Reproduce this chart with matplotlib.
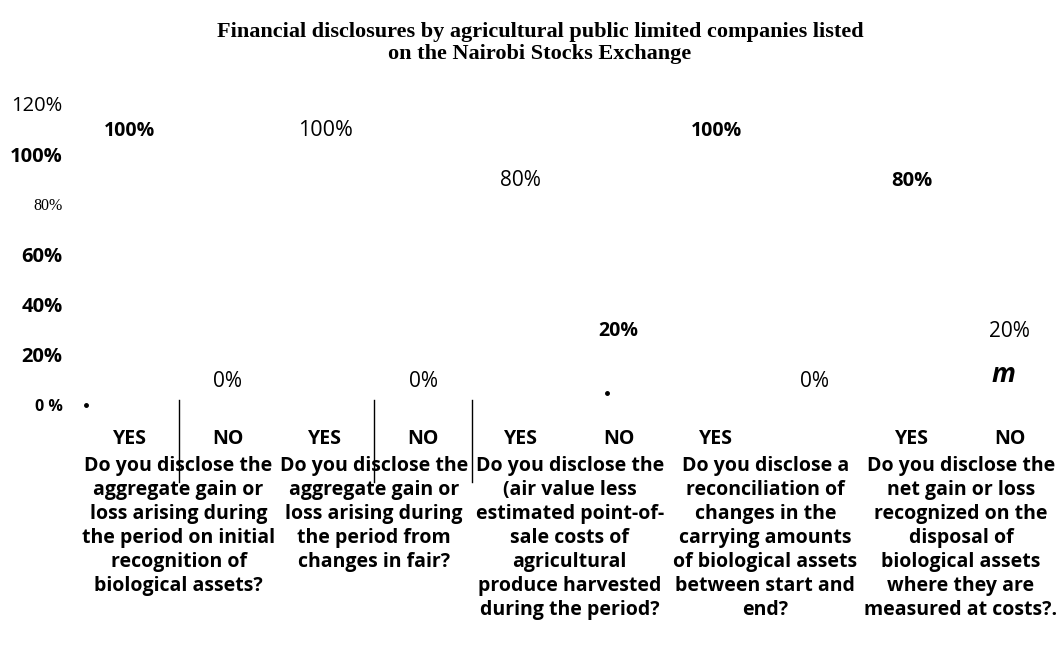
import matplotlib
matplotlib.use("Agg")
import matplotlib.pyplot as plt
import matplotlib.transforms as mtransforms

# answers per question (YES / NO pairs)
answers = ["YES", "NO", "YES", "NO", "YES", "NO", "YES", "", "YES", "NO"]
shares = [1.00, 0.00, 1.00, 0.00, 0.80, 0.20, 1.00, 0.00, 0.80, 0.20]
value_labels = ["100%", "0%", "100%", "0%", "80%", "20%", "100%", "0%", "80%", "20%"]
# how each value label looks in the source
value_weights = ["bold", "normal", "normal", "normal", "normal", "bold", "bold", "normal", "bold", "normal"]
value_sizes = [14, 15, 15.5, 15, 15, 14, 14, 15, 14.5, 15]

questions = [
    "Do you disclose the\naggregate gain or\nloss arising during\nthe period on initial\nrecognition of\nbiological assets?",
    "Do you disclose the\naggregate gain or\nloss arising during\nthe period from\nchanges in fair?",
    "Do you disclose the\n(air value less\nestimated point-of-\nsale costs of\nagricultural\nproduce harvested\nduring the period?",
    "Do you disclose a\nreconciliation of\nchanges in the\ncarrying amounts\nof biological assets\nbetween start and\nend?",
    "Do you disclose the\nnet gain or loss\nrecognized on the\ndisposal of\nbiological assets\nwhere they are\nmeasured at costs?.",
]

y_ticks = [0, 0.2, 0.4, 0.6, 0.8, 1.0, 1.2]
y_labels = ["0 %", "20%", "40%", "60%", "80%", "100%", "120%"]

sans = "Open Sans"

fig = plt.figure(figsize=(10.63, 6.70), dpi=100)
ax = fig.add_axes([0.076, 0.3955, 0.92, 0.4493])

x = list(range(len(answers)))
ax.bar(x, shares, width=0.6, color="white")
ax.set_xlim(-0.5, 9.5)
ax.set_ylim(0, 1.2)

for s in ax.spines.values():
    s.set_visible(False)

ax.set_yticks(y_ticks)
ax.set_yticklabels(y_labels)
ax.tick_params(axis="y", length=0, pad=13)
for lab, txt in zip(ax.get_yticklabels(), y_labels):
    lab.set_fontfamily(sans)
    if txt == "120%":
        lab.set_fontsize(14.5)
    elif txt == "80%":
        lab.set_fontfamily("Liberation Serif"); lab.set_fontsize(11.5)
    elif txt == "0 %":
        lab.set_fontsize(11.5); lab.set_fontweight("bold")
    else:
        lab.set_fontsize(14.5); lab.set_fontweight("bold")

ax.set_xticks(x)
ax.set_xticklabels(answers, fontfamily=sans, fontsize=14, fontweight="bold")
ax.tick_params(axis="x", length=0, pad=17)

for xi, v, lab, w, fs in zip(x, shares, value_labels, value_weights, value_sizes):
    ax.annotate(lab, (xi, v), xytext=(0, 17), textcoords="offset points",
                ha="center", va="center", fontfamily=sans, fontsize=fs,
                fontweight=w)

# separators under the axis
for sx in [0.5, 2.5, 3.5]:
    ax.axvline(sx, ymin=-0.256, ymax=0.017, color="black", lw=1, clip_on=False)

# stray marks from the source
ax.plot([-0.45, 4.88], [0.0, 0.048], "o", color="black", ms=2.5, clip_on=False)
ax.text(8.93, 0.12, "m", ha="center", va="center", fontfamily=sans,
        fontsize=19, fontweight="bold", style="italic")

trans = mtransforms.blended_transform_factory(ax.transData, ax.transAxes)
for i, q in enumerate(questions):
    ax.text(2 * i + 0.5, -0.17, q, transform=trans, ha="center", va="top",
            fontfamily=sans, fontsize=14, fontweight="bold", linespacing=1.27)

fig.text(0.508, 0.936, "Financial disclosures by agricultural public limited companies listed\non the Nairobi Stocks Exchange",
         ha="center", va="center", fontfamily="Liberation Serif", fontsize=16,
         fontweight="bold", linespacing=1.1)

fig.savefig("out.png", dpi=100)
